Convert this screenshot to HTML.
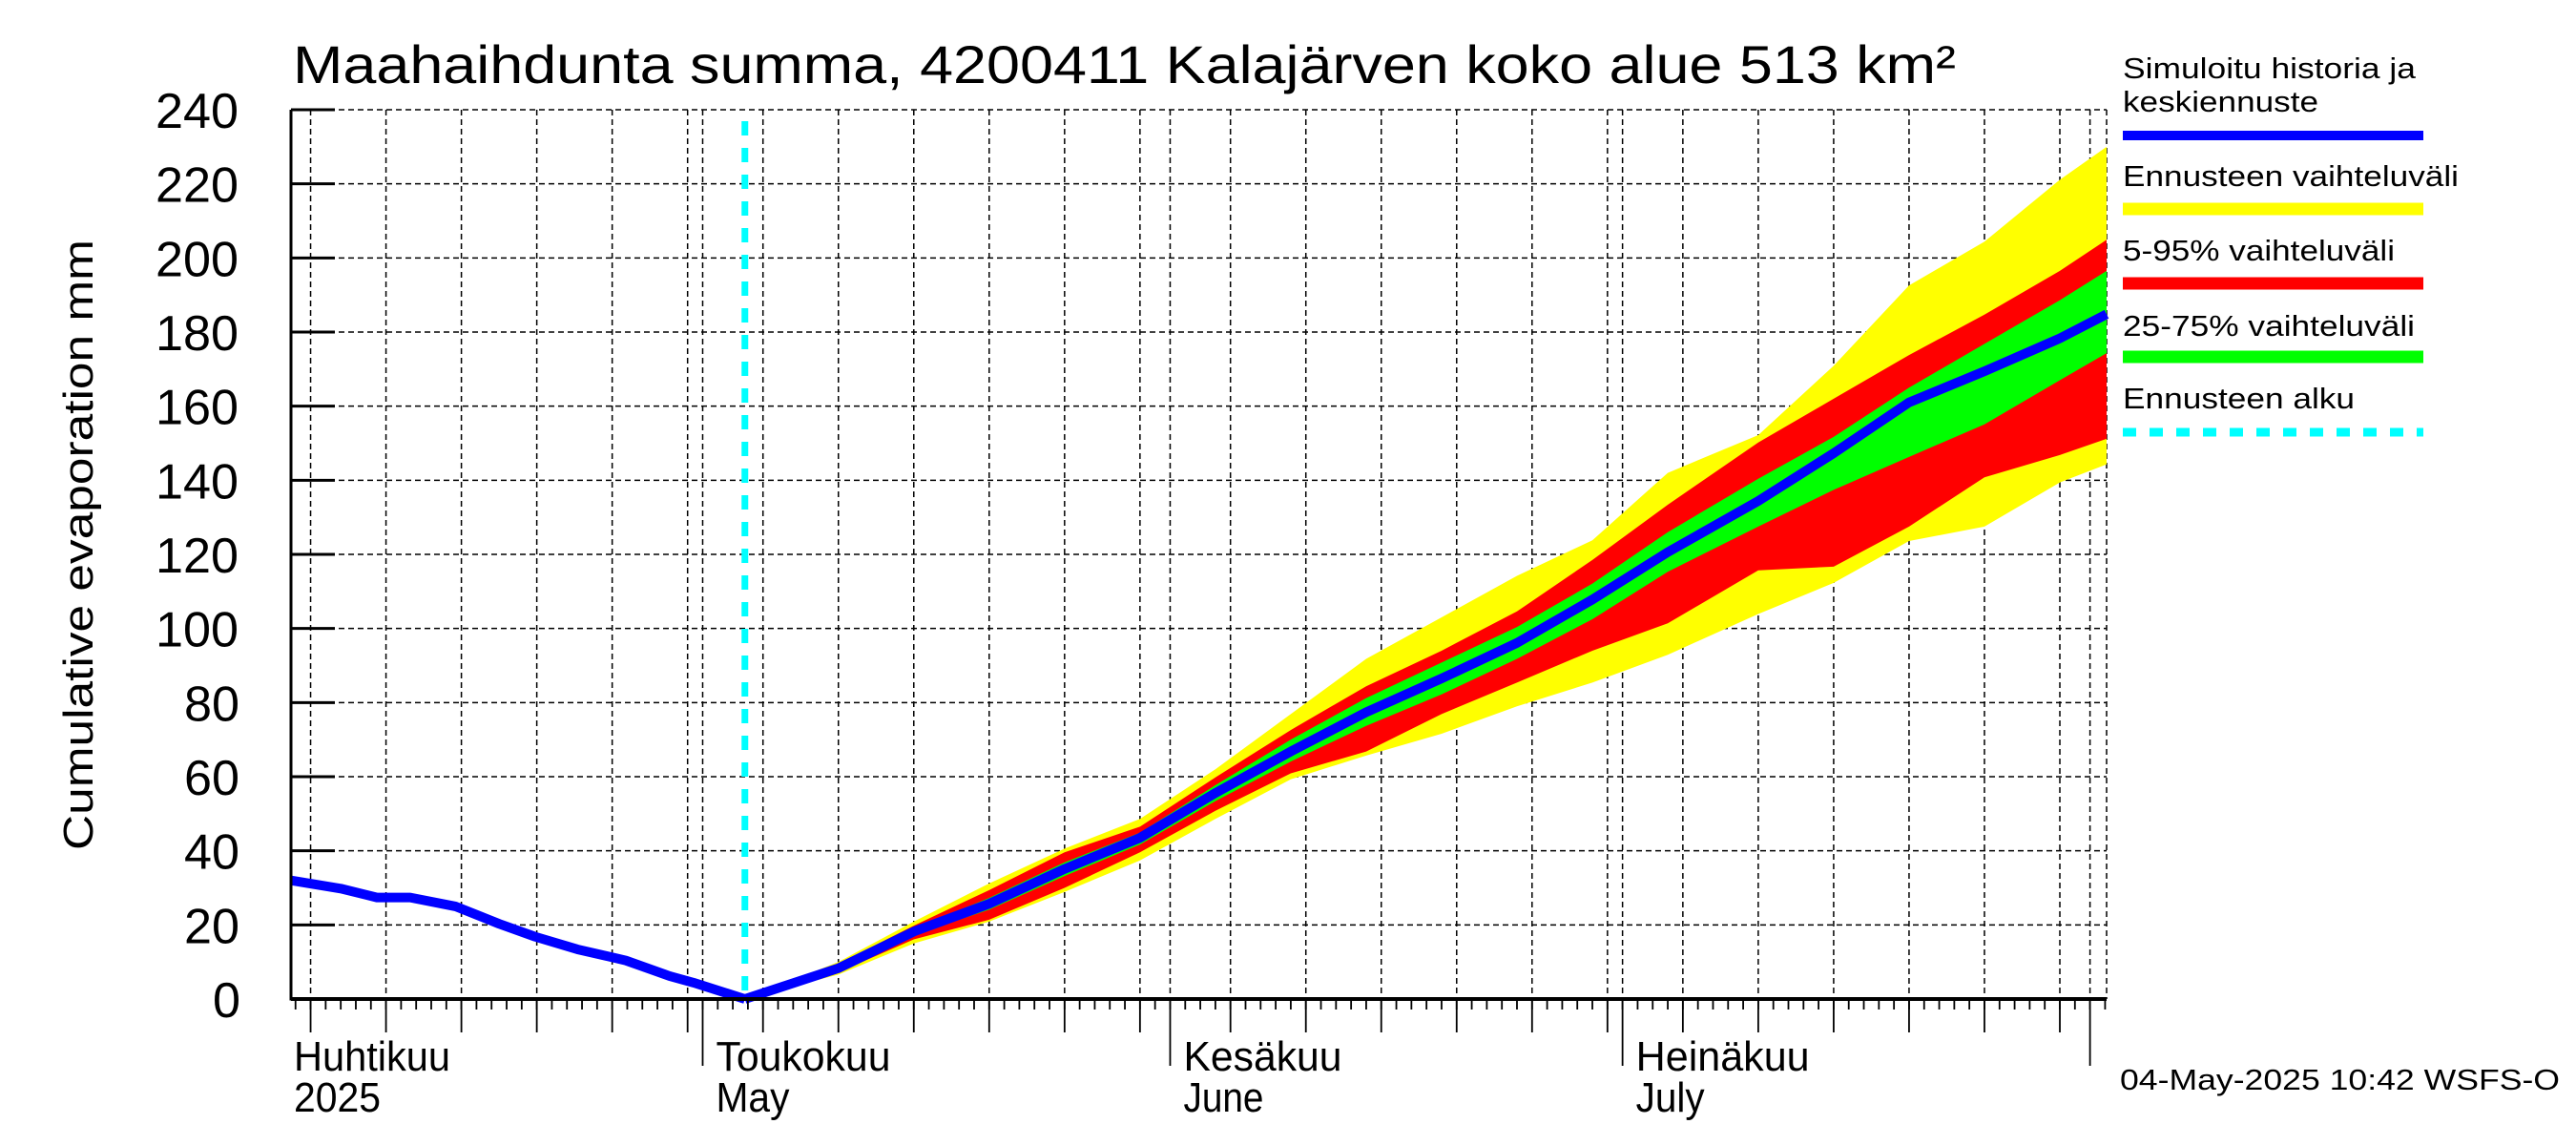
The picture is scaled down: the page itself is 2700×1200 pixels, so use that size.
<!DOCTYPE html>
<html><head><meta charset="utf-8">
<style>
html,body{margin:0;padding:0;background:#fff;}
svg{display:block;}
text{font-family:"Liberation Sans Narrow","Liberation Sans",sans-serif;fill:#000;}
</style></head>
<body>
<svg id="chart" width="2700" height="1200" viewBox="0 0 2700 1200" xmlns="http://www.w3.org/2000/svg">
<text x="307" y="87" font-size="56" textLength="1743" lengthAdjust="spacingAndGlyphs">Maahaihdunta summa, 4200411 Kalajärven koko alue 513 km²</text>
<text transform="translate(97,571) rotate(-90)" text-anchor="middle" font-size="44" textLength="640" lengthAdjust="spacingAndGlyphs">Cumulative evaporation   mm</text>
<g id="grid"></g>
<g id="bands"></g>
<g id="lines"></g>
<g id="axes"></g>
<g id="legend">
<text x="2225" y="82" font-size="31" textLength="307" lengthAdjust="spacingAndGlyphs">Simuloitu historia ja</text>
<text x="2225" y="117" font-size="31" textLength="205" lengthAdjust="spacingAndGlyphs">keskiennuste</text>
<line x1="2225" x2="2540" y1="142" y2="142" stroke="#0000ff" stroke-width="10"/>
<text x="2225" y="195" font-size="31" textLength="352" lengthAdjust="spacingAndGlyphs">Ennusteen vaihteluväli</text>
<line x1="2225" x2="2540" y1="219" y2="219" stroke="#ffff00" stroke-width="13"/>
<text x="2225" y="273" font-size="31" textLength="285" lengthAdjust="spacingAndGlyphs">5-95% vaihteluväli</text>
<line x1="2225" x2="2540" y1="297" y2="297" stroke="#ff0000" stroke-width="13"/>
<text x="2225" y="352" font-size="31" textLength="306" lengthAdjust="spacingAndGlyphs">25-75% vaihteluväli</text>
<line x1="2225" x2="2540" y1="374" y2="374" stroke="#00ff00" stroke-width="13"/>
<text x="2225" y="428" font-size="31" textLength="243" lengthAdjust="spacingAndGlyphs">Ennusteen alku</text>
<line x1="2225" x2="2540" y1="453" y2="453" stroke="#00ffff" stroke-width="9" stroke-dasharray="14,14"/>
</g>
<text x="2222" y="1142" font-size="31" textLength="461" lengthAdjust="spacingAndGlyphs">04-May-2025 10:42 WSFS-O</text>
</svg>
<script>
// Data (day index relative to 1 May 2025)
const histDays = [-27.3, -24, -21.6, -19.4, -16.4, -13.5, -11.1, -8.3, -5.1, -2.2, -0.6, 2.8];
const histVals = [32, 29.8, 27.4, 27.4, 25, 20.3, 16.8, 13.4, 10.4, 6.2, 4.4, 0];
const fcDays = [2.8, 9, 14, 19, 24, 29, 34, 39, 44, 49, 54, 59, 64, 70, 75, 80, 85, 90, 93.1];
const median = [0, 8.3, 18.2, 25.7, 35.1, 43.5, 55.6, 66.8, 77.4, 86.5, 96.1, 107.8, 120.6, 134.4, 147.3, 161, 169.4, 178.3, 184.8];
const rangeMax = [0, 10, 20.9, 31.2, 40.6, 48.6, 62, 76.9, 91.8, 103, 114.2, 123.8, 142, 152.2, 170.9, 192.6, 204.4, 221.1, 230];
const p95 = [0, 9.5, 19.8, 29.4, 39.6, 46.5, 59.8, 72.6, 84.4, 94, 104.6, 118.5, 133.4, 150.2, 162, 173.8, 184.7, 196.5, 204.9];
const p75 = [0, 8.9, 19, 27.3, 36.9, 44.9, 57.7, 70, 81.2, 90.8, 100.4, 112.1, 126, 140.4, 151.7, 165, 176.8, 188.6, 196.5];
const p25 = [0, 7.8, 17.3, 24.1, 33.2, 41.7, 53.4, 64.1, 73.7, 82.2, 91.8, 102.5, 115.3, 127.5, 137.4, 146.3, 155.1, 167, 174.3];
const p5 = [0, 7.2, 16.1, 21.4, 30, 39.6, 50.8, 60.9, 66.8, 76.9, 85.4, 94, 101.4, 115.7, 116.7, 127.5, 140.8, 146.8, 151.2];
const rangeMin = [0, 6.6, 15, 20.9, 28.9, 37.4, 48.6, 59.3, 65.7, 71.6, 79, 85.4, 92.9, 103.9, 112.3, 123.6, 127.5, 139.4, 144.3];
const yTicks = [0, 20, 40, 60, 80, 100, 120, 140, 160, 180, 200, 220, 240];
const monthDays = [0, 31, 61, 92];
const monthLabels = ["Toukokuu", "Kesäkuu", "Heinäkuu"];
const monthSub = ["May", "June", "July"];
const forecastStartDay = 2.8;

const X0 = 305, X1 = 2208, Y0 = 1047, Y1 = 115;
const DMIN = -27.3, DMAX = 93.1;
function xs(d){ return X0 + (d - DMIN) / (DMAX - DMIN) * (X1 - X0); }
function ys(v){ return Y0 - v / 240 * (Y0 - Y1); }
const NS = "http://www.w3.org/2000/svg";
function mk(tag, parent, attrs){ const e = document.createElementNS(NS, tag); for (const k in attrs) e.setAttribute(k, attrs[k]); parent.appendChild(e); return e; }
const grid = document.getElementById('grid'), bands = document.getElementById('bands'), lines = document.getElementById('lines'), axes = document.getElementById('axes');

yTicks.forEach(v => {
  const y = ys(v);
  const g = mk('line', grid, {x1: X0, x2: X1, y1: y, y2: y, stroke: '#000', 'stroke-width': 1.5, 'stroke-dasharray': '6,4'});
  
  
  const t = mk('line', axes, {x1: X0, x2: X0 + 46, y1: y, y2: y, stroke: '#000', 'stroke-width': 3});
  
  
  const s = String(v);
  const l = mk('text', axes, {x: 253 - 30 * s.length, y: y + 19, 'font-size': 52, textLength: 29 * s.length, lengthAdjust: 'spacingAndGlyphs'});
  l.textContent = s;
  
  
});
const aprGrid = [-26, -21, -16, -11, -6, -1];
const vdays = aprGrid.slice();
[0, 4, 9, 14, 19, 24, 29, 31, 35, 40, 45, 50, 55, 60, 61, 65, 70, 75, 80, 85, 90, 92].forEach(d => vdays.push(d));
vdays.forEach(d => {
  const x = xs(d);
  const g = mk('line', grid, {x1: x, x2: x, y1: Y1, y2: Y0, stroke: '#000', 'stroke-width': 1.5, 'stroke-dasharray': '6,4'});
  
  
  const isMonth = monthDays.indexOf(d) >= 0;
  const t = mk('line', axes, {x1: x, x2: x, y1: Y0, y2: isMonth ? 1117 : 1082, stroke: '#000', 'stroke-width': 1.8});
  
  
});
const rb = mk('line', grid, {x1: X1, x2: X1, y1: Y1, y2: Y0, stroke: '#000', 'stroke-width': 1.5, 'stroke-dasharray': '6,4'});


for (let d = -27; d <= 93; d++) {
  const x = xs(d);
  if (x < X0 || x > X1) continue;
  const t = mk('line', axes, {x1: x, x2: x, y1: Y0, y2: Y0 + 11, stroke: '#000', 'stroke-width': 1.8});
  
  
}
const hl = mk('text', axes, {x: 308, y: 1122, 'font-size': 44, textLength: 164, lengthAdjust: 'spacingAndGlyphs'});
hl.textContent = 'Huhtikuu';


const hy = mk('text', axes, {x: 308, y: 1165, 'font-size': 44, textLength: 91, lengthAdjust: 'spacingAndGlyphs'});
hy.textContent = '2025';


const monthW = [183, 166, 182];
const subW = [77, 84, 72];
monthLabels.forEach((m, i) => {
  const x = xs(monthDays[i]) + 14;
  const a = mk('text', axes, {x: x, y: 1122, 'font-size': 44, textLength: monthW[i], lengthAdjust: 'spacingAndGlyphs'});
  a.textContent = m;
  
  
  const b = mk('text', axes, {x: x, y: 1165, 'font-size': 44, textLength: subW[i], lengthAdjust: 'spacingAndGlyphs'});
  b.textContent = monthSub[i];
  
  
});
function band(hi, lo, color, name){
  let pts = fcDays.map((d, i) => xs(d) + ',' + ys(hi[i]));
  pts = pts.concat(fcDays.map((d, i) => xs(d) + ',' + ys(lo[i])).reverse());
  const p = mk('polygon', bands, {points: pts.join(' '), fill: color});
  
  
}
band(rangeMax, rangeMin, '#ffff00', 'band-full-range');
band(p95, p5, '#ff0000', 'band-5-95');
band(p75, p25, '#00ff00', 'band-25-75');
const fx = xs(forecastStartDay);
const cy = mk('line', lines, {x1: fx, x2: fx, y1: 127, y2: Y0, stroke: '#00ffff', 'stroke-width': 7, 'stroke-dasharray': '15,13'});


const hp = mk('polyline', lines, {points: histDays.map((d, i) => xs(d) + ',' + ys(histVals[i])).join(' '), fill: 'none', stroke: '#0000ff', 'stroke-width': 10, 'stroke-linejoin': 'round'});


const mp = mk('polyline', lines, {points: fcDays.map((d, i) => xs(d) + ',' + ys(median[i])).join(' '), fill: 'none', stroke: '#0000ff', 'stroke-width': 10, 'stroke-linejoin': 'round'});


const ax = mk('line', axes, {x1: X0, x2: X0, y1: Y1, y2: Y0 + 1.5, stroke: '#000', 'stroke-width': 3});


const bx = mk('line', axes, {x1: X0, x2: X1, y1: Y0, y2: Y0, stroke: '#000', 'stroke-width': 4});


</script>
</body></html>
